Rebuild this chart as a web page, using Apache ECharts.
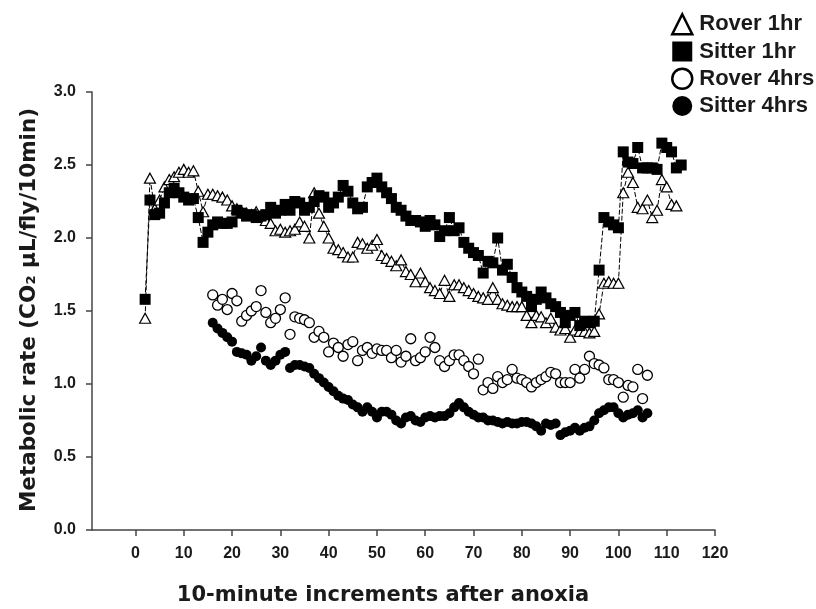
<!DOCTYPE html>
<html>
<head>
<meta charset="utf-8">
<script src="https://cdn.jsdelivr.net/npm/echarts@6/dist/echarts.min.js"></script>
<style>
  html, body { margin: 0; padding: 0; background: #fff; }
  #chart { width: 816px; height: 609px; }
</style>
</head>
<body>
<div id="chart"></div>
<script>
// 数据：每10分钟一个点，x 从起始值开始依次+1
var rover1hStart = 2;
var rover1h = [
  1.45, 2.41, 2.20, 2.26, 2.35, 2.40, 2.42, 2.45, 2.47, 2.45,
  2.46, 2.32, 2.18, 2.30, 2.30, 2.29, 2.28, 2.26, 2.22, 2.20,
  2.18, 2.17, 2.16, 2.18, 2.15, 2.12, 2.10, 2.05, 2.06, 2.04,
  2.05, 2.06, 2.11, 2.08, 2.00, 2.31, 2.17, 2.08, 2.00, 1.93,
  1.92, 1.90, 1.87, 1.87, 1.97, 1.96, 1.93, 1.95, 1.99, 1.88,
  1.86, 1.84, 1.81, 1.85, 1.77, 1.75, 1.70, 1.76, 1.70, 1.66,
  1.64, 1.62, 1.71, 1.60, 1.68, 1.68, 1.66, 1.64, 1.62, 1.60,
  1.59, 1.58, 1.66, 1.58, 1.55, 1.54, 1.53, 1.53, 1.53, 1.47,
  1.42, 1.47, 1.46, 1.42, 1.45, 1.39, 1.37, 1.38, 1.32, 1.37,
  1.36, 1.36, 1.35, 1.36, 1.48, 1.69, 1.70, 1.69, 1.69, 2.31,
  2.45, 2.38, 2.21, 2.20, 2.26, 2.14, 2.19, 2.40, 2.35, 2.23, 2.22
];

var sitter1hStart = 2;
var sitter1h = [
  1.58, 2.26, 2.16, 2.17, 2.24, 2.31, 2.34, 2.31, 2.28, 2.26,
  2.27, 2.14, 1.97, 2.04, 2.09, 2.11, 2.10, 2.10, 2.11, 2.19,
  2.17, 2.15, 2.16, 2.14, 2.15, 2.16, 2.21, 2.17, 2.19, 2.23,
  2.19, 2.25, 2.24, 2.19, 2.21, 2.25, 2.29, 2.28, 2.21, 2.24,
  2.28, 2.36, 2.32, 2.24, 2.20, 2.21, 2.35, 2.38, 2.41, 2.35,
  2.31, 2.27, 2.21, 2.19, 2.15, 2.12, 2.12, 2.11, 2.08, 2.12,
  2.09, 2.01, 2.05, 2.14, 2.05, 2.07, 1.97, 1.93, 1.90, 1.88,
  1.76, 1.84, 1.83, 2.00, 1.78, 1.82, 1.73, 1.66, 1.63, 1.60,
  1.53, 1.58, 1.63, 1.59, 1.55, 1.53, 1.49, 1.42, 1.47, 1.49,
  1.40, 1.43, 1.42, 1.43, 1.78, 2.14, 2.11, 2.09, 2.07, 2.59,
  2.52, 2.51, 2.62, 2.48, 2.48, 2.48, 2.47, 2.65, 2.62, 2.59, 2.48, 2.50
];

var rover4hStart = 16;
var rover4h = [
  1.61, 1.54, 1.58, 1.51, 1.62, 1.57, 1.43, 1.47, 1.50, 1.53,
  1.64, 1.49, 1.42, 1.45, 1.51, 1.59, 1.34, 1.46, 1.45, 1.44,
  1.42, 1.32, 1.36, 1.32, 1.22, 1.28, 1.25, 1.19, 1.27, 1.29,
  1.16, 1.23, 1.25, 1.21, 1.24, 1.23, 1.23, 1.18, 1.23, 1.15,
  1.19, 1.31, 1.16, 1.18, 1.22, 1.32, 1.25, 1.16, 1.12, 1.16,
  1.20, 1.20, 1.16, 1.12, 1.07, 1.17, 0.96, 1.01, 0.97, 1.05,
  1.01, 1.03, 1.10, 1.04, 1.03, 1.01, 0.98, 1.01, 1.03, 1.05,
  1.08, 1.07, 1.01, 1.01, 1.01, 1.10, 1.04, 1.10, 1.19, 1.14,
  1.13, 1.11, 1.03, 1.03, 1.01, 0.91, 0.99, 0.98, 1.10, 0.90, 1.06
];

var sitter4hStart = 16;
var sitter4h = [
  1.42, 1.38, 1.35, 1.32, 1.29, 1.22, 1.21, 1.20, 1.16, 1.19,
  1.25, 1.16, 1.13, 1.16, 1.20, 1.22, 1.11, 1.13, 1.13, 1.12,
  1.11, 1.07, 1.04, 1.01, 0.98, 0.95, 0.92, 0.90, 0.89, 0.86,
  0.84, 0.81, 0.84, 0.81, 0.77, 0.81, 0.81, 0.79, 0.75, 0.73,
  0.77, 0.78, 0.75, 0.74, 0.77, 0.78, 0.77, 0.78, 0.78, 0.80,
  0.84, 0.87, 0.84, 0.81, 0.79, 0.77, 0.77, 0.75, 0.75, 0.74,
  0.73, 0.74, 0.73, 0.73, 0.74, 0.74, 0.73, 0.71, 0.68, 0.73,
  0.72, 0.73, 0.65, 0.67, 0.68, 0.70, 0.68, 0.70, 0.71, 0.75,
  0.80, 0.82, 0.84, 0.84, 0.80, 0.77, 0.79, 0.80, 0.82, 0.77, 0.80
];

var xTicks = [0, 10, 20, 30, 40, 50, 60, 70, 80, 90, 100, 110, 120];
var seriesNames = ['Rover 1hr', 'Sitter 1hr', 'Rover 4hrs', 'Sitter 4hrs'];

var textColor = '#1a1a1a';
var axisColor = '#444';
var labelFont = 'Liberation Sans';
var titleFont = 'DejaVu Sans';

function toPoints(start, arr) {
  return arr.map(function (v, i) { return [start + i, v]; });
}

var chart = echarts.init(document.getElementById('chart'));

var dashLine = { color: '#000', width: 1, type: [5, 2] };

var tickLabel = {
  margin: 16,
  fontFamily: labelFont,
  fontSize: 16,
  fontWeight: 700,
  color: textColor
};

var option = {
  animation: false,
  backgroundColor: '#fff',
  grid: { left: 92, right: 101, top: 92, bottom: 79 },
  legend: {
    orient: 'vertical',
    left: 666,
    top: 8,
    itemWidth: 20,
    itemHeight: 20,
    itemGap: 5,
    selectedMode: false,
    textStyle: {
      fontFamily: labelFont,
      fontSize: 22,
      fontWeight: 'bold',
      color: textColor,
      padding: [0, 0, 0, 2]
    },
    data: [
      { name: seriesNames[0], icon: 'triangle', itemStyle: { color: '#fff', borderColor: '#000', borderWidth: 2.5 } },
      { name: seriesNames[1], icon: 'rect', itemStyle: { color: '#000', borderWidth: 0 } },
      { name: seriesNames[2], icon: 'circle', itemStyle: { color: '#fff', borderColor: '#000', borderWidth: 2.5 } },
      { name: seriesNames[3], icon: 'circle', itemStyle: { color: '#000', borderWidth: 0 } }
    ]
  },
  xAxis: {
    type: 'value',
    min: -9,
    max: 120,
    axisLine: { onZero: false, lineStyle: { color: axisColor, width: 1.5 } },
    axisTick: { customValues: xTicks, length: 6, lineStyle: { color: axisColor, width: 1.5 } },
    axisLabel: Object.assign({ customValues: xTicks }, tickLabel),
    splitLine: { show: false }
  },
  yAxis: {
    type: 'value',
    min: 0,
    max: 3,
    interval: 0.5,
    axisLine: { show: true, onZero: false, lineStyle: { color: axisColor, width: 1.5 } },
    axisTick: { show: true, length: 6, lineStyle: { color: axisColor, width: 1.5 } },
    axisLabel: Object.assign({
      formatter: function (v) { return v.toFixed(1); }
    }, tickLabel),
    splitLine: { show: false }
  },
  graphic: [
    {
      type: 'text',
      x: 383,
      y: 596,
      style: {
        text: '10-minute increments after anoxia',
        font: 'bold 21px "' + titleFont + '"',
        fill: textColor,
        align: 'center',
        verticalAlign: 'middle'
      }
    },
    {
      type: 'text',
      x: 29,
      y: 310,
      rotation: Math.PI / 2,
      style: {
        text: 'Metabolic rate (CO₂ µL/fly/10min)',
        font: 'bold 21.5px "' + titleFont + '"',
        fill: textColor,
        align: 'center',
        verticalAlign: 'middle'
      }
    }
  ],
  series: [
    {
      name: seriesNames[0],
      type: 'line',
      data: toPoints(rover1hStart, rover1h),
      symbol: 'triangle',
      symbolSize: [11, 10],
      showAllSymbol: true,
      itemStyle: { color: '#fff', borderColor: '#000', borderWidth: 1.2 },
      lineStyle: dashLine,
      z: 2
    },
    {
      name: seriesNames[1],
      type: 'line',
      data: toPoints(sitter1hStart, sitter1h),
      symbol: 'rect',
      symbolSize: 11,
      showAllSymbol: true,
      itemStyle: { color: '#000', borderWidth: 0 },
      lineStyle: dashLine,
      z: 3
    },
    {
      name: seriesNames[2],
      type: 'scatter',
      data: toPoints(rover4hStart, rover4h),
      symbol: 'circle',
      symbolSize: 10,
      itemStyle: { color: '#fff', borderColor: '#000', borderWidth: 1.3, opacity: 1 },
      z: 4
    },
    {
      name: seriesNames[3],
      type: 'scatter',
      data: toPoints(sitter4hStart, sitter4h),
      symbol: 'circle',
      symbolSize: 10,
      itemStyle: { color: '#000', opacity: 1 },
      z: 5
    }
  ]
};

chart.setOption(option);
</script>
</body>
</html>
